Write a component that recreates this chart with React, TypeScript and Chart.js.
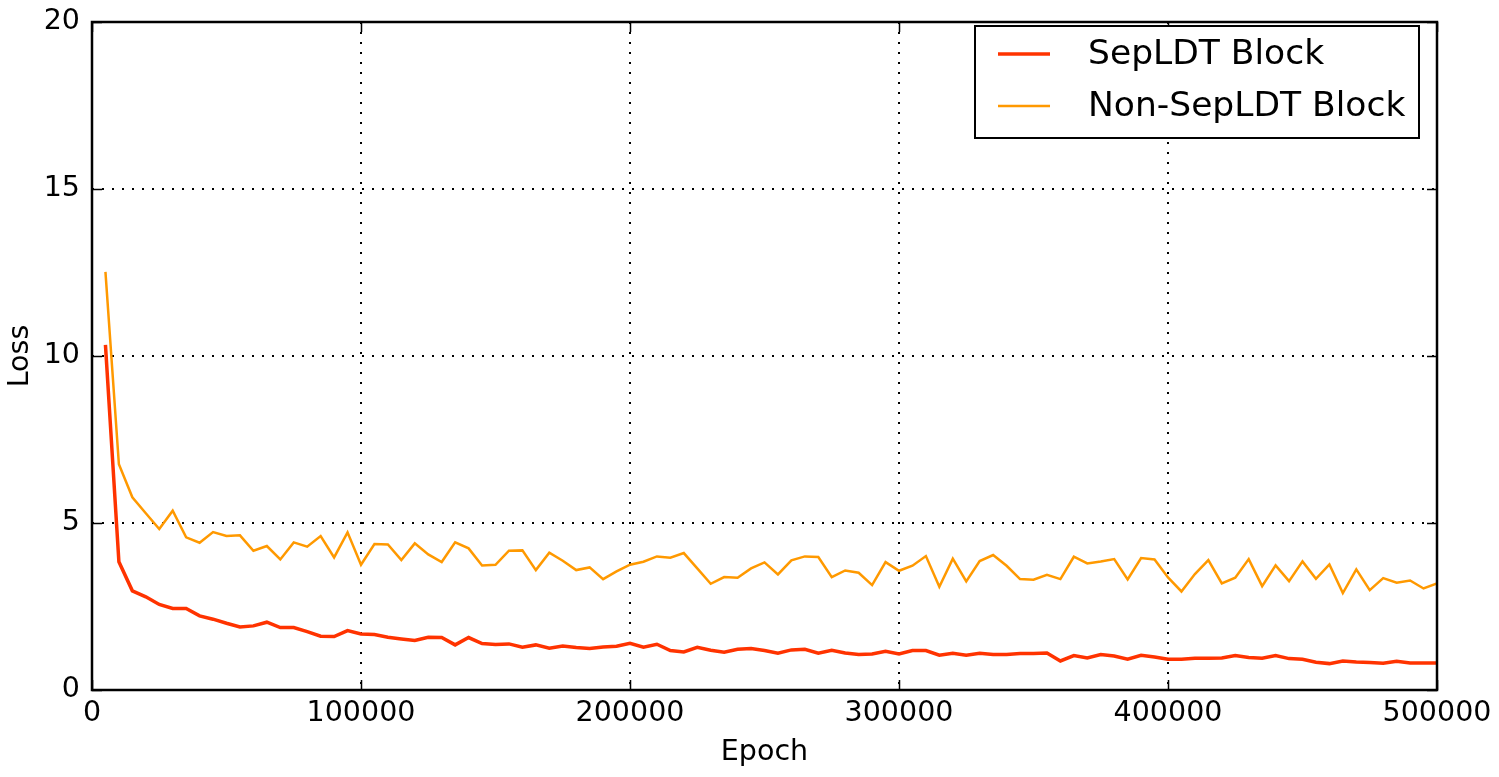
import { useEffect, useRef } from "react";
import { Chart, registerables } from "chart.js";

Chart.register(...registerables);

const FONT = "'DejaVu Sans', 'Liberation Sans', sans-serif";

const epochs = [
  5000, 10000, 15000, 20000, 25000, 30000, 35000, 40000, 45000, 50000,
  55000, 60000, 65000, 70000, 75000, 80000, 85000, 90000, 95000, 100000,
  105000, 110000, 115000, 120000, 125000, 130000, 135000, 140000, 145000, 150000,
  155000, 160000, 165000, 170000, 175000, 180000, 185000, 190000, 195000, 200000,
  205000, 210000, 215000, 220000, 225000, 230000, 235000, 240000, 245000, 250000,
  255000, 260000, 265000, 270000, 275000, 280000, 285000, 290000, 295000, 300000,
  305000, 310000, 315000, 320000, 325000, 330000, 335000, 340000, 345000, 350000,
  355000, 360000, 365000, 370000, 375000, 380000, 385000, 390000, 395000, 400000,
  405000, 410000, 415000, 420000, 425000, 430000, 435000, 440000, 445000, 450000,
  455000, 460000, 465000, 470000, 475000, 480000, 485000, 490000, 495000, 500000,
];

const sepLDT = [
  10.33, 3.84, 2.97, 2.79, 2.56, 2.44, 2.44, 2.22, 2.12, 2.0,
  1.89, 1.92, 2.03, 1.87, 1.87, 1.75, 1.61, 1.6, 1.78, 1.68,
  1.66, 1.58, 1.53, 1.48, 1.58, 1.57, 1.35, 1.57, 1.39, 1.36,
  1.38, 1.28, 1.35, 1.25, 1.32, 1.27, 1.24, 1.29, 1.31, 1.4,
  1.28, 1.37, 1.18, 1.14, 1.28, 1.19, 1.13, 1.22, 1.24, 1.18,
  1.1, 1.2, 1.22, 1.1, 1.19, 1.11, 1.06, 1.08, 1.16, 1.08,
  1.18, 1.18, 1.04, 1.1, 1.04, 1.1, 1.06, 1.06, 1.09, 1.09,
  1.11, 0.87, 1.03, 0.96, 1.06, 1.02, 0.92, 1.04, 0.99, 0.92,
  0.92, 0.95, 0.95, 0.96, 1.03, 0.97, 0.95, 1.03, 0.94, 0.92,
  0.83, 0.79, 0.87, 0.84, 0.82, 0.8, 0.86, 0.81, 0.81, 0.81,
];

const nonSepLDT = [
  12.52, 6.76, 5.77, 5.29, 4.82, 5.37, 4.57, 4.41, 4.73, 4.61,
  4.63, 4.17, 4.31, 3.91, 4.42, 4.29, 4.61, 3.97, 4.72, 3.75,
  4.37, 4.36, 3.89, 4.39, 4.06, 3.83, 4.42, 4.24, 3.73, 3.75,
  4.17, 4.18, 3.59, 4.11, 3.87, 3.59, 3.67, 3.32, 3.55, 3.75,
  3.84, 4.0, 3.96, 4.1, 3.64, 3.18, 3.38, 3.36, 3.64, 3.82,
  3.46, 3.88, 4.0, 3.98, 3.38, 3.58, 3.51, 3.14, 3.83, 3.57,
  3.72, 4.01, 3.09, 3.93, 3.25, 3.86, 4.04, 3.72, 3.32, 3.3,
  3.45, 3.32, 3.99, 3.79, 3.85, 3.92, 3.31, 3.95, 3.91, 3.37,
  2.95, 3.47, 3.89, 3.19, 3.36, 3.92, 3.11, 3.73, 3.26, 3.85,
  3.33, 3.76, 2.9, 3.61, 2.99, 3.35, 3.21, 3.28, 3.04, 3.19,
];

const seriesLabels = ["SepLDT Block", "Non-SepLDT Block"];
const seriesColors = ["#ff3300", "#ff9900"];
const seriesWidths = [3.5, 2.5];

const xTickValues = [0, 100000, 200000, 300000, 400000, 500000];
const yTickValues = [0, 5, 10, 15, 20];

const framePlugin = {
  id: "mplFrame",
  afterDatasetsDraw(chart: any) {
    const { ctx, chartArea } = chart;
    const xs = chart.scales.x;
    const ys = chart.scales.y;
    const { left, right, top, bottom } = chartArea;
    ctx.save();
    ctx.strokeStyle = "#000";
    ctx.lineWidth = 1.5;
    ctx.beginPath();
    const tl = 10;
    xTickValues.forEach((v) => {
      const px = Math.round(xs.getPixelForValue(v)) + 0.5;
      ctx.moveTo(px, bottom);
      ctx.lineTo(px, bottom - tl);
      ctx.moveTo(px, top);
      ctx.lineTo(px, top + tl);
    });
    yTickValues.forEach((v) => {
      const py = Math.round(ys.getPixelForValue(v)) + 0.5;
      ctx.moveTo(left, py);
      ctx.lineTo(left + tl, py);
      ctx.moveTo(right, py);
      ctx.lineTo(right - tl, py);
    });
    ctx.stroke();
    ctx.lineWidth = 2.5;
    ctx.strokeRect(left, top, right - left, bottom - top);
    ctx.restore();
  },
  afterDraw(chart: any) {
    const { ctx, chartArea } = chart;
    const boxRight = chartArea.right - 18;
    const boxTop = chartArea.top + 4;
    const boxW = 444;
    const boxH = 112;
    const boxLeft = boxRight - boxW;
    ctx.save();
    ctx.fillStyle = "#fff";
    ctx.fillRect(boxLeft, boxTop, boxW, boxH);
    ctx.strokeStyle = "#000";
    ctx.lineWidth = 2;
    ctx.strokeRect(boxLeft, boxTop, boxW, boxH);
    ctx.font = `34.5px ${FONT}`;
    ctx.textBaseline = "middle";
    ctx.textAlign = "left";
    chart.data.datasets.forEach((ds: any, i: number) => {
      const cy = boxTop + 28 + i * 52;
      ctx.strokeStyle = ds.borderColor;
      ctx.lineWidth = ds.borderWidth;
      ctx.beginPath();
      ctx.moveTo(boxLeft + 23, cy);
      ctx.lineTo(boxLeft + 75, cy);
      ctx.stroke();
      ctx.fillStyle = "#000";
      ctx.fillText(ds.label, boxLeft + 113, cy + 1);
    });
    ctx.restore();
  },
};

export default function App() {
  const ref = useRef<HTMLCanvasElement>(null);

  useEffect(() => {
    document.body.style.margin = "0";
    const canvas = ref.current;
    if (!canvas) return;
    const datasets = [sepLDT, nonSepLDT].map((vals, i) => ({
      label: seriesLabels[i],
      data: vals.map((v, j) => ({ x: epochs[j], y: v })),
      borderColor: seriesColors[i],
      backgroundColor: seriesColors[i],
      borderWidth: seriesWidths[i],
      pointRadius: 0,
      tension: 0,
      fill: false,
    }));
    const gridColor = (ctx: any) => {
      const scale = ctx.scale;
      const v = ctx.tick?.value;
      if (v === scale.min || v === scale.max) return "rgba(0,0,0,0)";
      return "#000";
    };
    const chart = new Chart(canvas, {
      type: "line",
      data: { datasets: datasets as any },
      options: {
        responsive: false,
        animation: false,
        layout: { padding: { left: 0, top: 22, right: 62, bottom: 0 } },
        plugins: {
          legend: { display: false },
          tooltip: { enabled: false },
        },
        scales: {
          x: {
            type: "linear",
            min: 0,
            max: 500000,
            afterBuildTicks: (scale: any) => {
              scale.ticks = xTickValues.map((v) => ({ value: v }));
            },
            afterFit: (scale: any) => {
              scale.height = 87;
              scale.paddingLeft = 0;
              scale.paddingRight = 0;
            },
            ticks: {
              color: "#000",
              font: { family: FONT, size: 28.5 },
              padding: 6,
              maxRotation: 0,
              autoSkip: false,
              callback: (v: any) => String(v),
            },
            grid: {
              color: gridColor,
              lineWidth: 2,
              drawTicks: false,
            },
            border: { display: false, dash: [2, 8] },
            title: {
              display: true,
              text: "Epoch",
              color: "#000",
              font: { family: FONT, size: 28.5 },
              padding: { top: 0, bottom: 7 },
            },
          },
          y: {
            type: "linear",
            min: 0,
            max: 20,
            afterBuildTicks: (scale: any) => {
              scale.ticks = yTickValues.map((v) => ({ value: v }));
            },
            afterFit: (scale: any) => {
              scale.width = 92;
              scale.paddingTop = 0;
              scale.paddingBottom = 0;
            },
            ticks: {
              color: "#000",
              font: { family: FONT, size: 28.5 },
              padding: 12,
              autoSkip: false,
              callback: (v: any) => String(v),
            },
            grid: {
              color: gridColor,
              lineWidth: 2,
              drawTicks: false,
            },
            border: { display: false, dash: [2, 8] },
            title: {
              display: true,
              text: "Loss",
              color: "#000",
              font: { family: FONT, size: 28.5 },
              padding: { top: 3, bottom: 0 },
            },
          },
        },
      },
      plugins: [framePlugin],
    });
    return () => chart.destroy();
  }, []);

  return (
    <div style={{ position: "absolute", left: 0, top: 0, width: 1499, height: 777, background: "#fff" }}>
      <canvas ref={ref} width={1499} height={777} style={{ display: "block" }} />
    </div>
  );
}
